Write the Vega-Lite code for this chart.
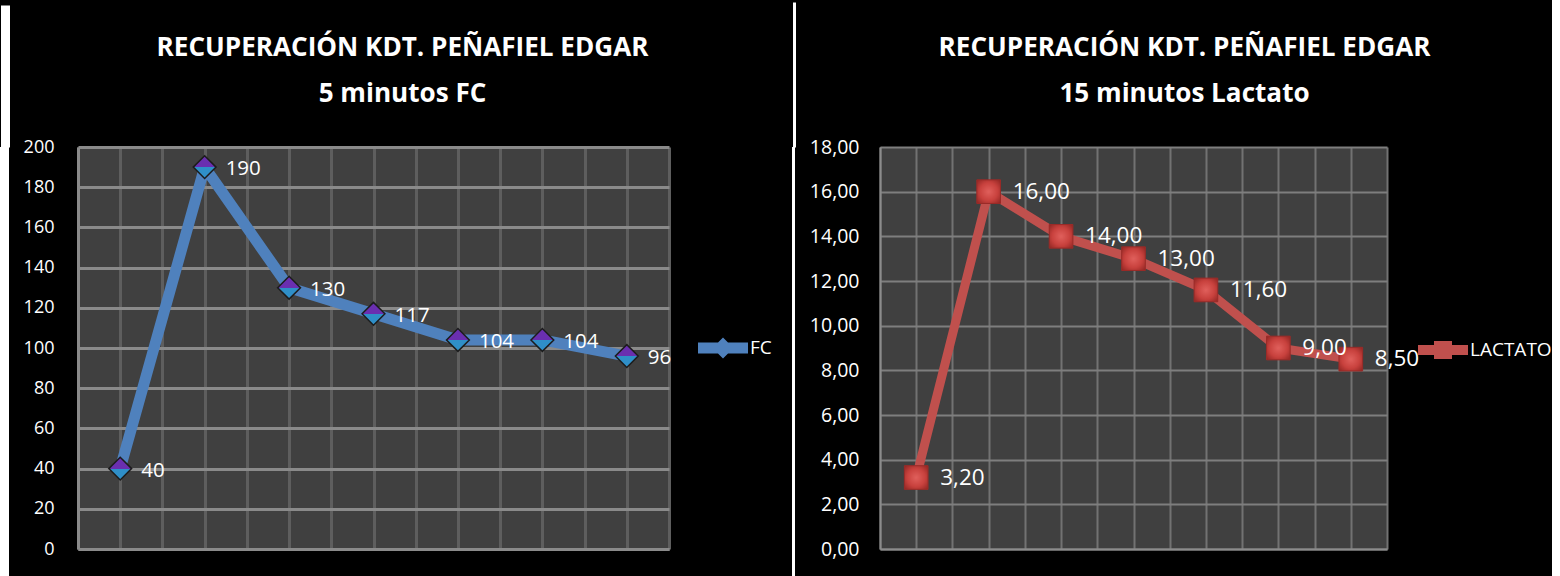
{
  "$schema": "https://vega.github.io/schema/vega-lite/v6.json",
  "background": "#000000",
  "padding": 0,
  "spacing": 13,
  "resolve": {
    "scale": {"color": "independent", "x": "independent", "y": "independent"},
    "legend": {"color": "independent"}
  },
  "datasets": {
    "fc": [
      {"orden": 1, "valor": 40, "serie": "FC"},
      {"orden": 2, "valor": 190, "serie": "FC"},
      {"orden": 3, "valor": 130, "serie": "FC"},
      {"orden": 4, "valor": 117, "serie": "FC"},
      {"orden": 5, "valor": 104, "serie": "FC"},
      {"orden": 6, "valor": 104, "serie": "FC"},
      {"orden": 7, "valor": 96, "serie": "FC"}
    ],
    "lactato": [
      {"orden": 1, "valor": 3.2, "serie": "LACTATO"},
      {"orden": 2, "valor": 16.0, "serie": "LACTATO"},
      {"orden": 3, "valor": 14.0, "serie": "LACTATO"},
      {"orden": 4, "valor": 13.0, "serie": "LACTATO"},
      {"orden": 5, "valor": 11.6, "serie": "LACTATO"},
      {"orden": 6, "valor": 9.0, "serie": "LACTATO"},
      {"orden": 7, "valor": 8.5, "serie": "LACTATO"}
    ],
    "marco": [{"parte": "borde"}]
  },
  "hconcat": [
    {
      "width": 9,
      "height": 430,
      "view": {"fill": "#ffffff", "stroke": null},
      "data": {"name": "marco"},
      "mark": {"type": "text", "text": ""},
      "encoding": {
        "x": {
          "field": "parte",
          "type": "nominal",
          "axis": {
            "orient": "top",
            "title": null,
            "labels": false,
            "domain": false,
            "grid": false,
            "tickSize": 142,
            "tickWidth": 9,
            "tickColor": "#ffffff"
          }
        }
      }
    },
    {
      "width": 591,
      "height": 402,
      "title": {
        "text": ["", "RECUPERACIÓN KDT. PEÑAFIEL EDGAR"],
        "subtitle": "5 minutos FC",
        "font": "Open Sans",
        "fontSize": 26.1,
        "fontWeight": "bold",
        "color": "#ffffff",
        "lineHeight": 34,
        "subtitleFont": "Open Sans",
        "subtitleFontSize": 26.1,
        "subtitleFontWeight": "bold",
        "subtitleColor": "#ffffff",
        "subtitlePadding": 20,
        "offset": 31,
        "dx": 29
      },
      "data": {"name": "fc"},
      "encoding": {
        "x": {
          "field": "orden",
          "type": "quantitative",
          "scale": {"domain": [0.5, 7.5], "nice": false, "zero": false},
          "axis": {
            "values": [0.5, 1, 1.5, 2, 2.5, 3, 3.5, 4, 4.5, 5, 5.5, 6, 6.5, 7, 7.5],
            "labels": false,
            "ticks": false,
            "title": null,
            "domainColor": "#8a8a8a",
            "domainWidth": 3,
            "gridColor": "#5e5e5e",
            "gridWidth": 3
          }
        },
        "y": {
          "field": "valor",
          "type": "quantitative",
          "scale": {"domain": [0, 200], "nice": false},
          "axis": {
            "values": [0, 20, 40, 60, 80, 100, 120, 140, 160, 180, 200],
            "title": null,
            "ticks": false,
            "labelFont": "Open Sans",
            "labelFontSize": 18,
            "labelColor": "#ffffff",
            "labelPadding": 24,
            "domainColor": "#8a8a8a",
            "domainWidth": 3,
            "gridColor": "#8a8a8a",
            "gridWidth": 3
          }
        }
      },
      "layer": [
        {
          "mark": {"type": "line", "strokeWidth": 11, "strokeCap": "round", "strokeJoin": "round"},
          "encoding": {
            "color": {
              "field": "serie",
              "type": "nominal",
              "scale": {"domain": ["FC"], "range": ["#4F81BD"]},
              "legend": {
                "orient": "none",
                "legendX": 613,
                "legendY": 169,
                "padding": 7,
                "title": null,
                "labelFont": "Open Sans",
                "labelFontSize": 19,
                "labelColor": "#ffffff",
                "labelOffset": 2,
                "symbolType": "M-1,-0.22H1V0.22H-1Z M-0.42,0L0,-0.42L0.42,0L0,0.42Z",
                "symbolSize": 2500,
                "encode": {
                  "symbols": {
                    "update": {
                      "fill": {"value": "#4F81BD"},
                      "stroke": {"value": "#4F81BD"},
                      "strokeWidth": {"value": 0}
                    }
                  }
                }
              }
            }
          }
        },
        {
          "mark": {
            "type": "point",
            "shape": "diamond",
            "size": 520,
            "filled": true,
            "opacity": 1,
            "fill": {
              "gradient": "linear",
              "x1": 0, "y1": 0, "x2": 0, "y2": 1,
              "stops": [
                {"offset": 0, "color": "#6a2fb0"},
                {"offset": 0.5, "color": "#6a2fb0"},
                {"offset": 0.5, "color": "#2f8fc8"},
                {"offset": 1, "color": "#2f8fc8"}
              ]
            },
            "stroke": "#1c1c1c",
            "strokeWidth": 1.5
          }
        },
        {
          "mark": {
            "type": "text",
            "align": "left",
            "baseline": "middle",
            "dx": 21,
            "dy": 2,
            "font": "Open Sans",
            "fontSize": 20.5,
            "color": "#ffffff"
          },
          "encoding": {
            "text": {"field": "valor", "type": "quantitative", "format": "d"}
          }
        }
      ]
    },
    {
      "width": 3,
      "height": 430,
      "view": {"fill": "#ffffff", "stroke": null},
      "data": {"name": "marco"},
      "mark": {"type": "text", "text": ""},
      "encoding": {
        "x": {
          "field": "parte",
          "type": "nominal",
          "axis": {
            "orient": "top",
            "title": null,
            "labels": false,
            "domain": false,
            "grid": false,
            "tickSize": 145,
            "tickWidth": 3,
            "tickColor": "#ffffff"
          }
        }
      }
    },
    {
      "width": 507,
      "height": 402,
      "title": {
        "text": ["", "RECUPERACIÓN KDT. PEÑAFIEL EDGAR"],
        "subtitle": "15 minutos Lactato",
        "font": "Open Sans",
        "fontSize": 26.1,
        "fontWeight": "bold",
        "color": "#ffffff",
        "lineHeight": 34,
        "subtitleFont": "Open Sans",
        "subtitleFontSize": 26.1,
        "subtitleFontWeight": "bold",
        "subtitleColor": "#ffffff",
        "subtitlePadding": 20,
        "offset": 30,
        "dx": 51
      },
      "data": {"name": "lactato"},
      "encoding": {
        "x": {
          "field": "orden",
          "type": "quantitative",
          "scale": {"domain": [0.5, 7.5], "nice": false, "zero": false},
          "axis": {
            "values": [0.5, 1, 1.5, 2, 2.5, 3, 3.5, 4, 4.5, 5, 5.5, 6, 6.5, 7, 7.5],
            "labels": false,
            "ticks": false,
            "title": null,
            "domainColor": "#8c8c8c",
            "domainWidth": 2,
            "gridColor": "#727272",
            "gridWidth": 2
          }
        },
        "y": {
          "field": "valor",
          "type": "quantitative",
          "scale": {"domain": [0, 18], "nice": false},
          "axis": {
            "values": [0, 2, 4, 6, 8, 10, 12, 14, 16, 18],
            "format": ".2f",
            "title": null,
            "ticks": false,
            "labelFont": "Open Sans",
            "labelFontSize": 19.5,
            "labelColor": "#ffffff",
            "labelPadding": 21,
            "domainColor": "#8c8c8c",
            "domainWidth": 2,
            "gridColor": "#7e7e7e",
            "gridWidth": 2
          }
        }
      },
      "layer": [
        {
          "mark": {"type": "line", "strokeWidth": 9, "strokeCap": "round", "strokeJoin": "round"},
          "encoding": {
            "color": {
              "field": "serie",
              "type": "nominal",
              "scale": {"domain": ["LACTATO"], "range": ["#C0504D"]},
              "legend": {
                "orient": "none",
                "legendX": 538,
                "legendY": 178,
                "title": null,
                "labelFont": "Open Sans",
                "labelFontSize": 19,
                "labelColor": "#ffffff",
                "labelOffset": 2,
                "symbolType": "M-1,-0.2H1V0.2H-1Z M-0.36,-0.36H0.36V0.36H-0.36Z",
                "symbolSize": 2500,
                "encode": {
                  "symbols": {
                    "update": {
                      "fill": {"value": "#C0504D"},
                      "stroke": {"value": "#C0504D"},
                      "strokeWidth": {"value": 0}
                    }
                  }
                }
              }
            }
          }
        },
        {
          "mark": {
            "type": "point",
            "shape": "square",
            "size": 560,
            "filled": true,
            "opacity": 1,
            "fill": {
              "gradient": "radial",
              "x1": 0.5, "y1": 0.5, "r1": 0,
              "x2": 0.5, "y2": 0.5, "r2": 0.7,
              "stops": [
                {"offset": 0, "color": "#e0605c"},
                {"offset": 0.55, "color": "#c8413d"},
                {"offset": 1, "color": "#8e2522"}
              ]
            },
            "stroke": "#9a2b28",
            "strokeWidth": 1
          }
        },
        {
          "mark": {
            "type": "text",
            "align": "left",
            "baseline": "middle",
            "dx": 24,
            "dy": 0,
            "font": "Open Sans",
            "fontSize": 22.5,
            "color": "#ffffff"
          },
          "encoding": {
            "text": {"field": "valor", "type": "quantitative", "format": ".2f"}
          }
        }
      ]
    }
  ],
  "config": {
    "locale": {
      "number": {"decimal": ",", "thousands": ".", "grouping": [3], "currency": ["", " €"]}
    },
    "view": {"fill": "#404040", "stroke": null}
  }
}
